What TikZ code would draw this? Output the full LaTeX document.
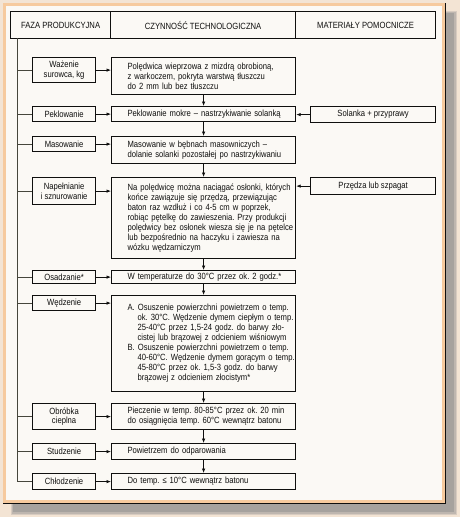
\documentclass[tikz,border=0pt]{standalone}
\usepackage{fontspec}
\setmainfont{Liberation Sans}[FakeStretch=0.85]
\usetikzlibrary{arrows.meta}
\definecolor{tlo}{RGB}{243,228,212}
\definecolor{ramka}{RGB}{246,202,158}
\definecolor{papier}{RGB}{251,249,245}
\definecolor{cien}{RGB}{166,162,158}
\definecolor{tusz}{RGB}{15,15,14}
\definecolor{linia}{RGB}{70,70,60}
\frenchspacing
\begin{document}
\begin{tikzpicture}[x=1pt,y=-1pt,font=\fontsize{9}{9.5}\selectfont,text=tusz,
	kol/.style={draw=tusz,line width=1.2pt,anchor=north west,inner sep=1pt},
	naglowek/.style={kol,minimum height=27pt,align=center},
	faza/.style={kol,minimum width=63pt,align=center},
	czynnosc/.style={kol,text width=184pt,inner xsep=0pt,align=left,font=\fontsize{9}{10}\selectfont,execute at begin node={\leftskip=16pt\rightskip=-8pt plus 1fil}},
	material/.style={kol,minimum width=125pt,align=center},
	strz/.style={-{Latex[length=4.5pt,width=3.5pt]},draw=tusz,line width=0.7pt},
	galaz/.style={draw=linia,line width=0.8pt}]
		\useasboundingbox (0,0) rectangle (460,517);
		\fill[tlo] (0,0) rectangle (460,517);
		\fill[cien,opacity=0.35] (11,11) rectangle (457,515);
		\fill[cien,opacity=0.5] (12,12) rectangle (455.5,513.5);
		\fill[cien] (13,13) rectangle (454,512);
		\fill[papier] (3,3) rectangle (445,503);
		\draw[ramka,line width=3pt] (4.5,4.5) rectangle (443.5,501.5);
		\draw[tusz,line width=0.8pt] (3,503) -- (445,503) -- (445,3);
		\node at (10,11) [naglowek,minimum width=100pt] (h1) {FAZA PRODUKCYJNA};
		\node at (110,11) [naglowek,minimum width=185pt] (h2) {CZYNNOŚĆ TECHNOLOGICZNA};
		\node at (295,11) [naglowek,minimum width=140pt] (h3) {MATERIAŁY POMOCNICZE};
		\node at (32,57) [faza,minimum height=25pt] (f1) {Ważenie\\surowca, kg};
		\node at (32,106) [faza,minimum height=15pt] (f2) {Peklowanie};
		\node at (32,136) [faza,minimum height=15pt] (f3) {Masowanie};
		\node at (32,177) [faza,minimum height=27pt] (f4) {Napełnianie\\i sznurowanie};
		\node at (32,270) [faza,minimum height=13pt] (f5) {Osadzanie*};
		\node at (32,295) [faza,minimum height=15pt] (f6) {Wędzenie};
		\node at (32,403) [faza,minimum height=26pt] (f7) {Obróbka\\cieplna};
		\node at (32,443) [faza,minimum height=16pt] (f8) {Studzenie};
		\node at (32,473) [faza,minimum height=16pt] (f9) {Chłodzenie};
		\node at (111,57) [czynnosc,minimum height=37pt] (c1) {Polędwica wieprzowa z mizdrą obrobioną,\\z warkoczem, pokryta warstwą tłuszczu\\do 2 mm lub bez tłuszczu};
		\node at (111,106) [czynnosc,minimum height=15pt] (c2) {Peklowanie mokre – nastrzykiwanie solanką};
		\node at (111,136) [czynnosc,minimum height=27pt] (c3) {Masowanie w bębnach masowniczych –\\dolanie solanki pozostałej po nastrzykiwaniu};
		\node at (111,177) [czynnosc,minimum height=81pt] (c4) {Na polędwicę można naciągać osłonki, których\\końce zawiązuje się przędzą, przewiązując\\baton raz wzdłuż i co 4-5 cm w poprzek,\\robiąc pętelkę do zawieszenia. Przy produkcji\\polędwicy bez osłonek wiesza się je na pętelce\\lub bezpośrednio na haczyku i zawiesza na\\wózku wędzarniczym};
		\node at (111,270) [czynnosc,minimum height=13pt] (c5) {W temperaturze do 30°C przez ok. 2 godz.*};
		\node at (111,295) [czynnosc,minimum height=96pt] (c6) {A. Osuszenie powierzchni powietrzem o temp.\\\hspace*{10pt}ok. 30°C. Wędzenie dymem ciepłym o temp.\\\hspace*{10pt}25-40°C przez 1,5-24 godz. do barwy zło-\\\hspace*{10pt}cistej lub brązowej z odcieniem wiśniowym\\B. Osuszenie powierzchni powietrzem o temp.\\\hspace*{10pt}40-60°C. Wędzenie dymem gorącym o temp.\\\hspace*{10pt}45-80°C przez ok. 1,5-3 godz. do barwy\\\hspace*{10pt}brązowej z odcieniem złocistym*};
		\node at (111,403) [czynnosc,minimum height=26pt] (c7) {Pieczenie w temp. 80-85°C przez ok. 20 min\\do osiągnięcia temp. 60°C wewnątrz batonu};
		\node at (111,443) [czynnosc,minimum height=16pt] (c8) {Powietrzem do odparowania};
		\node at (111,473) [czynnosc,minimum height=16pt] (c9) {Do temp. ≤ 10°C wewnątrz batonu};
		\node at (310,106) [material,minimum height=16pt] (m2) {Solanka + przyprawy};
		\node at (310,177) [material,minimum height=17pt] (m4) {Przędza lub szpagat};
		\coordinate (pion) at (17,38);
		\draw[galaz] (pion) |- (f9.west);
		\draw[galaz] (pion |- f1.west) -- (f1.west);
		\draw[galaz] (pion |- f2.west) -- (f2.west);
		\draw[galaz] (pion |- f3.west) -- (f3.west);
		\draw[galaz] (pion |- f4.west) -- (f4.west);
		\draw[galaz] (pion |- f5.west) -- (f5.west);
		\draw[galaz] (pion |- f6.west) -- (f6.west);
		\draw[galaz] (pion |- f7.west) -- (f7.west);
		\draw[galaz] (pion |- f8.west) -- (f8.west);
		\draw[strz] (f1.east) -- (f1.east -| c1.west);
		\draw[strz] (f2.east) -- (f2.east -| c2.west);
		\draw[strz] (f3.east) -- (f3.east -| c3.west);
		\draw[strz] (f4.east) -- (f4.east -| c4.west);
		\draw[strz] (f5.east) -- (f5.east -| c5.west);
		\draw[strz] (f6.east) -- (f6.east -| c6.west);
		\draw[strz] (f7.east) -- (f7.east -| c7.west);
		\draw[strz] (f8.east) -- (f8.east -| c8.west);
		\draw[strz] (f9.east) -- (f9.east -| c9.west);
		\draw[strz] (c1.south) -- (c2.north);
		\draw[strz] (c2.south) -- (c3.north);
		\draw[strz] (c3.south) -- (c4.north);
		\draw[strz] (c4.south) -- (c5.north);
		\draw[strz] (c5.south) -- (c6.north);
		\draw[strz] (c6.south) -- (c7.north);
		\draw[strz] (c7.south) -- (c8.north);
		\draw[strz] (c8.south) -- (c9.north);
		\draw[strz] (m2.west) -- (m2.west -| c2.east);
		\draw[strz] (m4.west) -- (m4.west -| c4.east);
	\end{tikzpicture}
\end{document}
